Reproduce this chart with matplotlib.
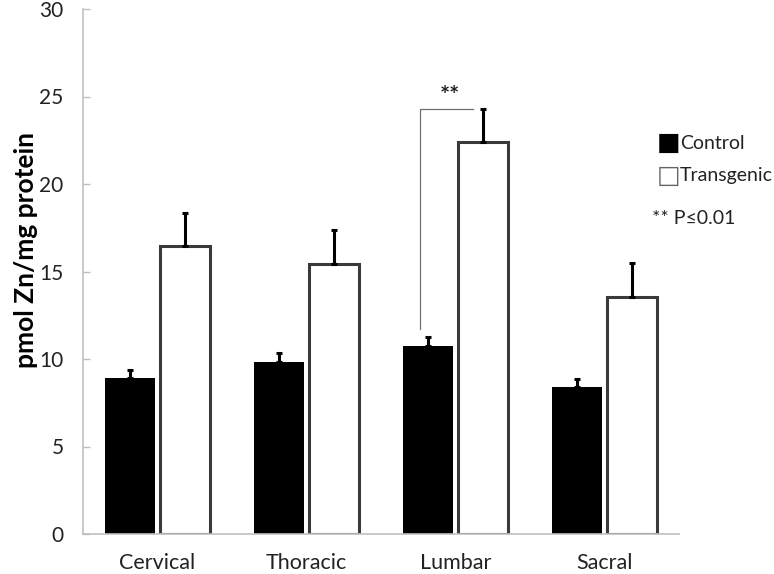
import matplotlib.pyplot as plt
import numpy as np

plt.rcParams['font.family'] = ['Lato', 'DejaVu Sans']

regions = ['Cervical', 'Thoracic', 'Lumbar', 'Sacral']
control = [8.9, 9.85, 10.75, 8.4]
control_err = [0.47, 0.5, 0.5, 0.48]
transgenic = [16.45, 15.45, 22.4, 13.55]
transgenic_err = [1.9, 1.9, 1.88, 1.93]
y_ticks = [0, 5, 10, 15, 20, 25, 30]

W, H = 774, 574
fig = plt.figure(figsize=(W / 100, H / 100), dpi=100)
ax = fig.add_axes([83 / W, (H - 534) / H, (679 - 83) / W, (534 - 9) / H])

x = np.arange(len(regions))
bw = 0.335
off = 0.185
ax.bar(x - off, control, bw, color='black', edgecolor='black', linewidth=0,
       yerr=[np.zeros(4), control_err], error_kw=dict(ecolor='black', elinewidth=2.2, capsize=2.5, capthick=2.2),
       zorder=2)
ax.bar(x + off, transgenic, bw, color='white', edgecolor='#3a3a3a', linewidth=2.2,
       yerr=[np.zeros(4), transgenic_err], error_kw=dict(ecolor='black', elinewidth=2.2, capsize=2.5, capthick=2.2),
       zorder=2)

# significance bracket for lumbar
i = 2
ax.plot([i - 0.235, i - 0.235, i + 0.12],
        [control[i] + control_err[i] + 0.45, transgenic[i] + transgenic_err[i], transgenic[i] + transgenic_err[i]],
        color='#707070', linewidth=0.9, zorder=1)
ax.text(i - 0.04, transgenic[i] + transgenic_err[i] + 0.05, '**', ha='center', va='bottom',
        fontsize=17, fontweight='bold', color='#222222')

ax.set_xlim(-0.5, 3.5)
ax.set_ylim(0, 30)
ax.set_yticks(y_ticks)
ax.set_xticks(x)
ax.set_xticklabels(regions)
ax.tick_params(axis='y', direction='in', length=5, width=1, color='#c0c0c0', pad=14, labelsize=15, labelcolor='#222222')
ax.tick_params(axis='x', length=0, pad=14, labelsize=15.5, labelcolor='#222222')
for s in ['top', 'right']:
    ax.spines[s].set_visible(False)
for s in ['left', 'bottom']:
    ax.spines[s].set_color('#c0c0c0')
    ax.spines[s].set_linewidth(1.2)

fig.text(26 / W, 1 - 250 / H, 'pmol Zn/mg protein', rotation=90, ha='center', va='center',
         fontsize=19, fontweight='bold')

# legend
fig.text(657 / W, 1 - 143 / H, '\u25a0', fontsize=18, va='center', ha='left', family='DejaVu Sans')
fig.text(680 / W, 1 - 143 / H, 'Control', fontsize=14, va='center', ha='left', color='#222222')
fig.text(657 / W, 1 - 176 / H, '\u25a1', fontsize=18, va='center', ha='left', family='DejaVu Sans', color='#666666')
fig.text(680 / W, 1 - 176 / H, 'Transgenic', fontsize=14, va='center', ha='left', color='#222222')
fig.text(652 / W, 1 - 219 / H, '** P\u22640.01', fontsize=14, va='center', ha='left', color='#222222')

fig.savefig('out.png', dpi=100)
